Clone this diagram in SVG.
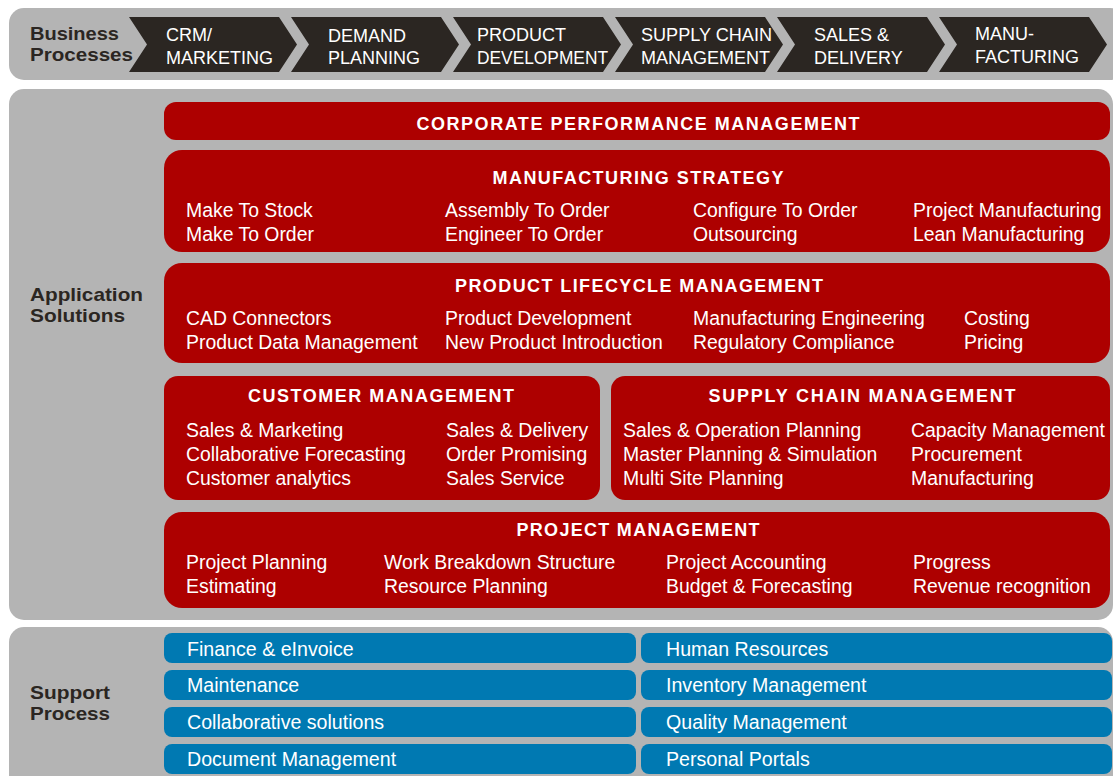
<svg xmlns="http://www.w3.org/2000/svg" width="1113" height="776" viewBox="0 0 1113 776">
<style>
.panel{fill:#b4b4b4}
.chev{fill:#2b2622}
.red{fill:#ad0000}
.blue{fill:#0079b2}
.lbl{font-family:"Liberation Sans",Arial,sans-serif;font-weight:bold;font-size:19px;fill:#2b2622}
.ct{font-family:"Liberation Sans",Arial,sans-serif;font-size:18px;fill:#ffffff}
.ttl{font-family:"Liberation Sans",Arial,sans-serif;font-weight:bold;font-size:18px;fill:#ffffff;text-anchor:middle}
.bt{font-family:"Liberation Sans",Arial,sans-serif;font-size:19.4px;fill:#ffffff}
.st{font-family:"Liberation Sans",Arial,sans-serif;font-size:19.6px;fill:#ffffff}
</style>
<rect width="1113" height="776" fill="#ffffff"/>

<g id="business-processes">
<rect class="panel" x="9" y="8" width="1116" height="72" rx="15"/>
<text class="lbl" x="30" y="40" textLength="89" lengthAdjust="spacingAndGlyphs">Business</text>
<text class="lbl" x="30" y="61" textLength="103" lengthAdjust="spacingAndGlyphs">Processes</text>
</g>

<g id="bp-crm">
<path class="chev" d="M129,17 H279 L297,44.5 L279,72 H129 L147,44.5 Z"/>
<text class="ct" x="166" y="41">CRM/</text>
<text class="ct" x="166" y="64">MARKETING</text>
</g>
<g id="bp-demand">
<path class="chev" d="M291,17 H441 L459,44.5 L441,72 H291 L309,44.5 Z"/>
<text class="ct" x="328" y="42">DEMAND</text>
<text class="ct" x="328" y="64">PLANNING</text>
</g>
<g id="bp-product">
<path class="chev" d="M453,17 H603 L621,44.5 L603,72 H453 L471,44.5 Z"/>
<text class="ct" x="477" y="41">PRODUCT</text>
<text class="ct" x="477" y="64" textLength="131" lengthAdjust="spacingAndGlyphs">DEVELOPMENT</text>
</g>
<g id="bp-supply">
<path class="chev" d="M615,17 H765 L783,44.5 L765,72 H615 L633,44.5 Z"/>
<text class="ct" x="641" y="41" textLength="131" lengthAdjust="spacingAndGlyphs">SUPPLY CHAIN</text>
<text class="ct" x="641" y="64" textLength="129" lengthAdjust="spacingAndGlyphs">MANAGEMENT</text>
</g>
<g id="bp-sales">
<path class="chev" d="M777,17 H927 L945,44.5 L927,72 H777 L795,44.5 Z"/>
<text class="ct" x="814" y="41">SALES &amp;</text>
<text class="ct" x="814" y="64">DELIVERY</text>
</g>
<g id="bp-manu">
<path class="chev" d="M939,17 H1089 L1107,44.5 L1089,72 H939 L957,44.5 Z"/>
<text class="ct" x="975" y="40">MANU-</text>
<text class="ct" x="975" y="63">FACTURING</text>
</g>

<g id="application-solutions">
<rect class="panel" x="9" y="89" width="1104" height="531" rx="15"/>
<text class="lbl" x="30" y="301" textLength="113" lengthAdjust="spacingAndGlyphs">Application</text>
<text class="lbl" x="30" y="322" textLength="95" lengthAdjust="spacingAndGlyphs">Solutions</text>
</g>

<g id="corporate-performance-management">
<rect class="red" x="164" y="102" width="946" height="38" rx="12"/>
<text class="ttl" x="638" y="130" textLength="443" lengthAdjust="spacing">CORPORATE PERFORMANCE MANAGEMENT</text>
</g>

<g id="manufacturing-strategy">
<rect class="red" x="164" y="150" width="946" height="102" rx="18"/>
<text class="ttl" x="638" y="184" textLength="291" lengthAdjust="spacing">MANUFACTURING STRATEGY</text>
<text class="bt" x="186" y="217">Make To Stock</text>
<text class="bt" x="186" y="241">Make To Order</text>
<text class="bt" x="445" y="217">Assembly To Order</text>
<text class="bt" x="445" y="241">Engineer To Order</text>
<text class="bt" x="693" y="217">Configure To Order</text>
<text class="bt" x="693" y="241">Outsourcing</text>
<text class="bt" x="913" y="217">Project Manufacturing</text>
<text class="bt" x="913" y="241">Lean Manufacturing</text>
</g>

<g id="product-lifecycle-management">
<rect class="red" x="164" y="263" width="946" height="100" rx="18"/>
<text class="ttl" x="639" y="292" textLength="368" lengthAdjust="spacing">PRODUCT LIFECYCLE MANAGEMENT</text>
<text class="bt" x="186" y="325">CAD Connectors</text>
<text class="bt" x="186" y="349">Product Data Management</text>
<text class="bt" x="445" y="325">Product Development</text>
<text class="bt" x="445" y="349">New Product Introduction</text>
<text class="bt" x="693" y="325">Manufacturing Engineering</text>
<text class="bt" x="693" y="349">Regulatory Compliance</text>
<text class="bt" x="964" y="325">Costing</text>
<text class="bt" x="964" y="349">Pricing</text>
</g>

<g id="customer-management">
<rect class="red" x="164" y="376" width="436" height="124" rx="14"/>
<text class="ttl" x="381" y="402" textLength="266" lengthAdjust="spacing">CUSTOMER MANAGEMENT</text>
<text class="bt" x="186" y="437">Sales &amp; Marketing</text>
<text class="bt" x="186" y="461">Collaborative Forecasting</text>
<text class="bt" x="186" y="485">Customer analytics</text>
<text class="bt" x="446" y="437">Sales &amp; Delivery</text>
<text class="bt" x="446" y="461">Order Promising</text>
<text class="bt" x="446" y="485">Sales Service</text>
</g>

<g id="supply-chain-management">
<rect class="red" x="611" y="376" width="499" height="124" rx="14"/>
<text class="ttl" x="862" y="402" textLength="307" lengthAdjust="spacing">SUPPLY CHAIN MANAGEMENT</text>
<text class="bt" x="623" y="437">Sales &amp; Operation Planning</text>
<text class="bt" x="623" y="461">Master Planning &amp; Simulation</text>
<text class="bt" x="623" y="485">Multi Site Planning</text>
<text class="bt" x="911" y="437">Capacity Management</text>
<text class="bt" x="911" y="461">Procurement</text>
<text class="bt" x="911" y="485">Manufacturing</text>
</g>

<g id="project-management">
<rect class="red" x="164" y="512" width="946" height="96" rx="18"/>
<text class="ttl" x="638" y="536" textLength="243" lengthAdjust="spacing">PROJECT MANAGEMENT</text>
<text class="bt" x="186" y="569">Project Planning</text>
<text class="bt" x="186" y="593">Estimating</text>
<text class="bt" x="384" y="569">Work Breakdown Structure</text>
<text class="bt" x="384" y="593">Resource Planning</text>
<text class="bt" x="666" y="569">Project Accounting</text>
<text class="bt" x="666" y="593">Budget &amp; Forecasting</text>
<text class="bt" x="913" y="569">Progress</text>
<text class="bt" x="913" y="593">Revenue recognition</text>
</g>

<g id="support-process">
<rect class="panel" x="9" y="627" width="1104" height="170" rx="15"/>
<text class="lbl" x="30" y="699" textLength="80" lengthAdjust="spacingAndGlyphs">Support</text>
<text class="lbl" x="30" y="720" textLength="80" lengthAdjust="spacingAndGlyphs">Process</text>
</g>

<g id="finance-einvoice"><rect class="blue" x="164" y="633" width="472" height="30" rx="8"/><text class="st" x="187" y="656">Finance &amp; eInvoice</text></g>
<g id="maintenance"><rect class="blue" x="164" y="670" width="472" height="30" rx="8"/><text class="st" x="187" y="692">Maintenance</text></g>
<g id="collaborative-solutions"><rect class="blue" x="164" y="707" width="472" height="30" rx="8"/><text class="st" x="187" y="729">Collaborative solutions</text></g>
<g id="document-management"><rect class="blue" x="164" y="744" width="472" height="30" rx="8"/><text class="st" x="187" y="766">Document Management</text></g>
<g id="human-resources"><rect class="blue" x="641" y="633" width="471" height="30" rx="8"/><text class="st" x="666" y="656">Human Resources</text></g>
<g id="inventory-management"><rect class="blue" x="641" y="670" width="471" height="30" rx="8"/><text class="st" x="666" y="692">Inventory Management</text></g>
<g id="quality-management"><rect class="blue" x="641" y="707" width="471" height="30" rx="8"/><text class="st" x="666" y="729">Quality Management</text></g>
<g id="personal-portals"><rect class="blue" x="641" y="744" width="471" height="30" rx="8"/><text class="st" x="666" y="766">Personal Portals</text></g>

<g id="connectors"></g>
</svg>
